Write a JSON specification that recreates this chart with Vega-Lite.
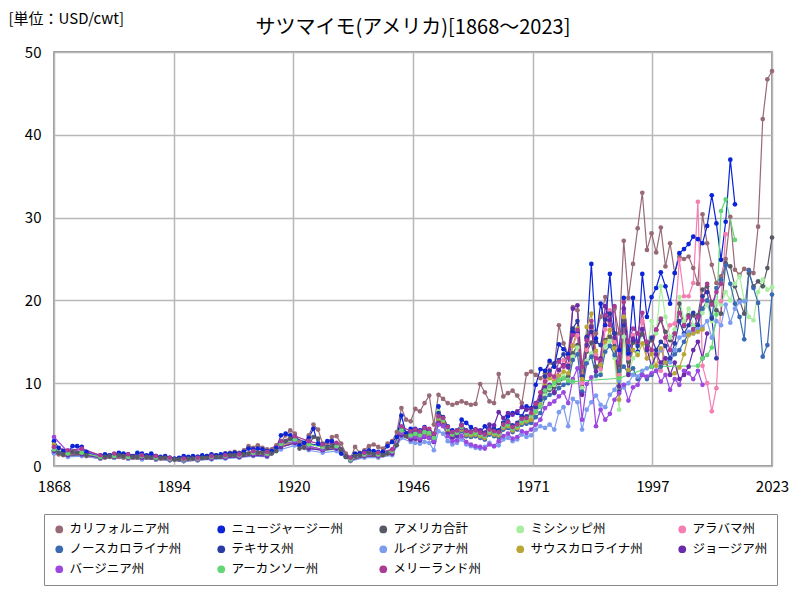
{
 "$schema": "https://vega.github.io/schema/vega-lite/v6.json",
 "width": 718, "height": 414,
 "autosize": {"type": "none"},
 "padding": {"left": 54, "top": 52, "right": 28, "bottom": 134},
 "background": "white",
 "config": {
  "font": "Noto Sans CJK JP",
  "view": {"stroke": "#7a7a7a", "strokeWidth": 1.5},
  "axis": {"labelFont": "Noto Sans CJK JP", "labelFontSize": 15, "labelColor": "#000", "domain": false, "ticks": false, "gridColor": "#b8b8b8", "gridWidth": 1.5}
 },
 "title": {"text": "サツマイモ(アメリカ)[1868～2023]", "fontSize": 20, "fontWeight": "normal", "color": "#000", "anchor": "middle", "offset": -27, "font": "Noto Sans CJK JP"},
 "data": {"values": [
  {"yr":1868,"CA":1.8,"NJ":3.0,"US":2.2,"NC":1.6,"TX":1.9,"LA":1.5,"SC":2.6,"GA":1.8,"VA":3.5,"MD":2.3,"MS":1.7,"AL":1.6,"AR":2.0},
  {"yr":1869,"CA":1.4,"NJ":2.2,"US":1.6},
  {"yr":1870,"CA":1.3,"NJ":1.8,"US":1.4},
  {"yr":1871,"CA":1.5,"NJ":1.6,"US":1.5,"NC":1.2,"TX":1.6,"LA":1.1,"SC":1.4,"GA":1.3,"VA":1.7,"MD":1.9,"MS":1.3,"AL":1.4,"AR":1.5},
  {"yr":1872,"CA":1.6,"NJ":2.4,"US":1.7},
  {"yr":1873,"CA":1.5,"NJ":2.4,"US":1.6},
  {"yr":1874,"CA":1.4,"NJ":2.3,"US":1.6,"NC":1.3,"TX":1.7,"LA":1.2,"SC":1.5,"GA":1.4,"VA":2.0,"MD":2.1,"MS":1.4,"AL":1.3,"AR":1.6},
  {"yr":1875,"CA":1.2,"NJ":1.7,"US":1.3},
  {"yr":1878,"CA":1.0,"NJ":1.3,"US":1.1,"NC":0.9,"TX":1.2,"LA":0.9,"SC":1.0,"GA":1.0,"VA":1.2,"MD":1.3,"MS":1.0,"AL":0.9,"AR":1.1},
  {"yr":1879,"CA":1.0,"NJ":1.4,"US":1.1},
  {"yr":1880,"CA":1.1,"NJ":1.3,"US":1.2},
  {"yr":1881,"CA":1.2,"NJ":1.4,"US":1.3,"NC":1.0,"TX":1.4,"LA":1.0,"SC":1.1,"GA":1.1,"VA":1.3,"MD":1.5,"MS":1.1,"AL":1.0,"AR":1.2},
  {"yr":1882,"CA":1.1,"NJ":1.6,"US":1.3},
  {"yr":1883,"CA":1.0,"NJ":1.5,"US":1.2},
  {"yr":1884,"CA":1.1,"NJ":1.4,"US":1.2,"NC":0.9,"TX":1.3,"LA":0.9,"SC":1.0,"GA":1.0,"VA":1.2,"MD":1.4,"MS":1.0,"AL":0.9,"AR":1.1},
  {"yr":1885,"CA":1.0,"NJ":1.2,"US":1.1},
  {"yr":1886,"CA":1.0,"NJ":1.6,"US":1.1},
  {"yr":1887,"CA":1.1,"NJ":1.5,"US":1.2,"NC":0.9,"TX":1.3,"LA":0.8,"SC":1.0,"GA":1.0,"VA":1.2,"MD":1.3,"MS":1.0,"AL":0.9,"AR":1.2},
  {"yr":1888,"CA":1.0,"NJ":1.3,"US":1.1},
  {"yr":1889,"CA":1.0,"NJ":1.5,"US":1.0},
  {"yr":1890,"CA":1.0,"NJ":1.2,"US":1.1,"NC":0.8,"TX":1.2,"LA":0.8,"SC":0.9,"GA":0.9,"VA":1.1,"MD":1.2,"MS":0.9,"AL":0.8,"AR":1.0},
  {"yr":1891,"CA":0.9,"NJ":1.1,"US":1.0},
  {"yr":1892,"CA":1.0,"NJ":1.2,"US":1.0},
  {"yr":1893,"CA":0.8,"NJ":1.0,"US":0.9,"NC":0.7,"TX":1.0,"LA":0.7,"SC":0.8,"GA":0.8,"VA":0.9,"MD":1.0,"MS":0.8,"AL":0.7,"AR":0.9},
  {"yr":1894,"CA":0.8,"NJ":0.9,"US":0.8},
  {"yr":1895,"CA":0.9,"NJ":1.0,"US":0.8},
  {"yr":1896,"CA":0.9,"NJ":1.2,"US":0.8,"NC":0.6,"TX":0.9,"LA":0.6,"SC":0.7,"GA":0.7,"VA":0.8,"MD":0.9,"MS":0.7,"AL":0.6,"AR":0.8},
  {"yr":1897,"CA":1.0,"NJ":1.1,"US":0.9},
  {"yr":1898,"CA":1.0,"NJ":1.2,"US":0.9},
  {"yr":1899,"CA":1.1,"NJ":1.1,"US":0.9,"NC":0.7,"TX":1.0,"LA":0.7,"SC":0.8,"GA":0.8,"VA":0.9,"MD":1.0,"MS":0.8,"AL":0.7,"AR":0.9},
  {"yr":1900,"CA":1.1,"NJ":1.3,"US":1.0},
  {"yr":1901,"CA":1.2,"NJ":1.2,"US":1.0},
  {"yr":1902,"CA":1.3,"NJ":1.4,"US":1.1,"NC":0.9,"TX":1.2,"LA":0.8,"SC":1.0,"GA":0.9,"VA":1.0,"MD":1.2,"MS":0.9,"AL":0.9,"AR":1.1},
  {"yr":1903,"CA":1.3,"NJ":1.3,"US":1.1},
  {"yr":1904,"CA":1.3,"NJ":1.4,"US":1.1},
  {"yr":1905,"CA":1.5,"NJ":1.5,"US":1.2,"NC":1.0,"TX":1.3,"LA":0.9,"SC":1.1,"GA":1.0,"VA":1.1,"MD":1.3,"MS":1.0,"AL":1.0,"AR":1.2},
  {"yr":1906,"CA":1.6,"NJ":1.5,"US":1.3},
  {"yr":1907,"CA":1.7,"NJ":1.6,"US":1.3},
  {"yr":1908,"CA":1.6,"NJ":1.5,"US":1.3,"NC":1.1,"TX":1.4,"LA":1.0,"SC":1.2,"GA":1.1,"VA":1.2,"MD":1.4,"MS":1.1,"AL":1.1,"AR":1.3},
  {"yr":1909,"CA":1.9,"NJ":1.7,"US":1.4},
  {"yr":1910,"CA":2.4,"NJ":2.1,"US":1.5},
  {"yr":1911,"CA":2.2,"NJ":2.0,"US":1.6,"NC":1.3,"TX":1.7,"LA":1.2,"SC":1.4,"GA":1.3,"VA":1.5,"MD":1.8,"MS":1.4,"AL":1.3,"AR":1.6},
  {"yr":1912,"CA":2.5,"NJ":2.1,"US":1.6},
  {"yr":1913,"CA":2.2,"NJ":2.0,"US":1.6},
  {"yr":1914,"CA":2.0,"NJ":1.8,"US":1.5,"NC":1.3,"TX":1.6,"LA":1.1,"SC":1.3,"GA":1.2,"VA":1.4,"MD":1.7,"MS":1.3,"AL":1.2,"AR":1.5},
  {"yr":1915,"CA":2.0,"NJ":1.8,"US":1.5},
  {"yr":1916,"CA":2.5,"NJ":2.2,"US":1.8},
  {"yr":1917,"CA":2.9,"NJ":3.7,"US":2.6,"NC":2.3,"TX":2.8,"LA":2.0,"SC":2.4,"GA":2.3,"VA":2.6,"MD":3.0,"MS":2.4,"AL":2.3,"AR":2.7},
  {"yr":1918,"CA":3.7,"NJ":3.9,"US":3.0},
  {"yr":1919,"CA":4.3,"NJ":3.7,"US":3.3},
  {"yr":1920,"CA":3.9,"NJ":3.3,"US":3.1,"NC":2.8,"TX":3.4,"LA":2.5,"SC":2.9,"GA":2.8,"VA":3.0,"MD":3.6,"MS":2.9,"AL":2.7,"AR":3.2},
  {"yr":1921,"CA":2.9,"NJ":2.5,"US":2.1},
  {"yr":1922,"CA":2.7,"NJ":2.8,"US":2.2},
  {"yr":1923,"CA":3.7,"NJ":3.4,"US":2.5,"NC":2.2,"TX":2.7,"LA":1.9,"SC":2.3,"GA":2.1,"VA":2.4,"MD":3.0,"MS":2.2,"AL":2.1,"AR":2.6},
  {"yr":1924,"CA":5.0,"NJ":4.5,"US":3.5},
  {"yr":1925,"CA":4.4,"NJ":2.7,"US":3.3},
  {"yr":1926,"CA":2.7,"NJ":2.6,"US":2.2,"NC":1.9,"TX":2.4,"LA":1.6,"SC":2.0,"GA":1.9,"VA":2.0,"MD":2.6,"MS":1.8,"AL":1.9,"AR":2.3},
  {"yr":1927,"CA":2.8,"NJ":3.0,"US":2.2},
  {"yr":1928,"CA":3.5,"NJ":3.0,"US":2.4},
  {"yr":1929,"CA":3.6,"NJ":2.4,"US":2.4,"NC":2.1,"TX":2.6,"LA":1.8,"SC":2.2,"GA":2.1,"VA":2.3,"MD":2.8,"MS":2.0,"AL":2.1,"AR":2.4},
  {"yr":1930,"CA":2.7,"NJ":1.5,"US":2.0},
  {"yr":1931,"CA":1.5,"NJ":1.1,"US":1.1},
  {"yr":1932,"CA":0.9,"NJ":1.0,"US":0.8,"NC":0.7,"TX":0.9,"LA":0.6,"SC":0.7,"GA":0.7,"VA":0.8,"MD":1.0,"MS":0.7,"AL":0.7,"AR":0.8},
  {"yr":1933,"CA":2.3,"NJ":1.5,"US":1.2},
  {"yr":1934,"CA":1.6,"NJ":1.5,"US":1.3},
  {"yr":1935,"CA":1.9,"NJ":1.7,"US":1.4,"NC":1.2,"TX":1.5,"LA":1.0,"SC":1.2,"GA":1.2,"VA":1.3,"MD":1.6,"MS":1.2,"AL":1.2,"AR":1.4},
  {"yr":1936,"CA":2.4,"NJ":1.9,"US":1.6},
  {"yr":1937,"CA":2.6,"NJ":1.8,"US":1.4},
  {"yr":1938,"CA":2.3,"NJ":1.7,"US":1.4,"NC":1.2,"TX":1.5,"LA":1.0,"SC":1.2,"GA":1.2,"VA":1.3,"MD":1.6,"MS":1.2,"AL":1.2,"AR":1.4},
  {"yr":1939,"CA":2.1,"NJ":1.7,"US":1.3},
  {"yr":1940,"CA":2.7,"NJ":2.4,"US":1.5},
  {"yr":1941,"CA":3.0,"NJ":2.9,"US":1.8,"NC":1.5,"TX":1.9,"LA":1.3,"SC":1.6,"GA":1.5,"VA":1.7,"MD":2.0,"MS":1.5,"AL":1.5,"AR":1.8},
  {"yr":1942,"CA":4.1,"NJ":3.5,"US":2.5},
  {"yr":1943,"CA":7.0,"NJ":6.1,"US":4.2,"NC":3.8,"TX":4.5,"LA":3.4,"SC":3.9,"GA":3.7,"VA":4.0,"MD":4.8,"MS":3.6,"AL":3.7,"AR":4.3},
  {"yr":1944,"CA":5.6,"NJ":3.9,"US":3.6},
  {"yr":1945,"CA":5.4,"NJ":4.5,"US":3.7,"NC":3.3,"TX":3.9,"LA":2.9,"SC":3.4,"GA":3.2,"VA":3.5,"MD":4.2,"MS":3.3,"AL":3.2,"AR":3.7},
  {"yr":1946,"CA":6.9,"NJ":4.5,"US":3.8,"NC":3.4,"TX":4.2,"LA":2.8,"SC":3.6,"GA":3.3,"VA":3.5,"MD":4.4,"MS":3.5,"AL":3.3,"AR":3.9},
  {"yr":1947,"CA":6.6,"NJ":4.3,"US":3.6,"NC":3.2,"TX":4.0,"LA":2.7,"SC":3.4,"GA":3.1,"VA":3.3,"MD":4.2,"MS":3.3,"AL":3.1,"AR":3.7},
  {"yr":1948,"CA":7.6,"NJ":4.7,"US":4.0,"NC":3.6,"TX":4.4,"LA":2.9,"SC":3.8,"GA":3.5,"VA":3.6,"MD":4.6,"MS":3.7,"AL":3.5,"AR":4.1},
  {"yr":1949,"CA":8.5,"NJ":4.0,"US":3.9,"NC":3.5,"TX":4.3,"LA":2.8,"SC":3.7,"GA":3.4,"VA":3.4,"MD":4.5,"MS":3.6,"AL":3.4,"AR":4.0},
  {"yr":1950,"CA":5.0,"NJ":3.2,"US":3.4,"NC":3.0,"TX":3.6,"LA":1.9,"SC":3.1,"GA":2.9,"VA":3.0,"MD":3.9,"MS":3.1,"AL":2.9,"AR":3.4},
  {"yr":1951,"CA":8.6,"NJ":7.2,"US":5.6,"NC":5.3,"TX":6.4,"LA":4.2,"SC":5.5,"GA":5.2,"VA":5.0,"MD":6.0,"MS":6.6,"AL":5.3,"AR":5.9},
  {"yr":1952,"CA":8.1,"NJ":5.2,"US":5.4,"NC":5.0,"TX":5.9,"LA":3.9,"SC":5.2,"GA":4.9,"VA":4.8,"MD":5.8,"MS":5.8,"AL":5.0,"AR":5.6},
  {"yr":1953,"CA":7.6,"NJ":4.5,"US":4.4,"NC":4.0,"TX":4.8,"LA":3.0,"SC":4.2,"GA":3.9,"VA":3.6,"MD":4.7,"MS":4.6,"AL":4.0,"AR":4.5},
  {"yr":1954,"CA":7.4,"NJ":4.3,"US":3.8,"NC":3.4,"TX":4.0,"LA":2.6,"SC":3.6,"GA":3.4,"VA":3.0,"MD":4.1,"MS":3.9,"AL":3.4,"AR":3.8},
  {"yr":1955,"CA":7.6,"NJ":3.8,"US":4.0,"NC":3.6,"TX":4.3,"LA":2.8,"SC":3.8,"GA":3.7,"VA":3.1,"MD":4.3,"MS":4.1,"AL":3.6,"AR":4.0},
  {"yr":1956,"CA":7.8,"NJ":5.6,"US":4.6,"NC":4.2,"TX":5.0,"LA":3.2,"SC":4.4,"GA":4.6,"VA":3.6,"MD":4.9,"MS":4.8,"AL":4.2,"AR":4.7},
  {"yr":1957,"CA":7.6,"NJ":5.2,"US":4.0,"NC":3.6,"TX":4.3,"LA":2.6,"SC":3.8,"GA":4.0,"VA":2.9,"MD":4.2,"MS":4.1,"AL":3.6,"AR":4.0},
  {"yr":1958,"CA":7.4,"NJ":4.7,"US":3.9,"NC":3.5,"TX":4.2,"LA":2.4,"SC":3.7,"GA":4.1,"VA":2.6,"MD":4.1,"MS":4.0,"AL":3.5,"AR":3.9},
  {"yr":1959,"CA":7.5,"NJ":4.3,"US":4.0,"NC":3.6,"TX":4.4,"LA":2.2,"SC":3.8,"GA":4.4,"VA":2.4,"MD":4.3,"MS":4.1,"AL":3.6,"AR":4.0},
  {"yr":1960,"CA":9.9,"NJ":4.0,"US":3.8,"NC":3.4,"TX":4.2,"LA":2.1,"SC":3.6,"GA":4.3,"VA":2.3,"MD":4.0,"MS":3.9,"AL":3.4,"AR":3.8},
  {"yr":1961,"CA":8.9,"NJ":4.8,"US":3.6,"NC":3.2,"TX":4.0,"LA":2.3,"SC":3.4,"GA":4.0,"VA":2.1,"MD":3.8,"MS":3.7,"AL":3.2,"AR":3.6},
  {"yr":1962,"CA":7.8,"NJ":4.0,"US":4.2,"NC":3.8,"TX":4.6,"LA":2.8,"SC":4.0,"GA":5.0,"VA":2.6,"MD":4.4,"MS":4.3,"AL":3.9,"AR":4.2},
  {"yr":1963,"CA":7.6,"NJ":4.5,"US":4.0,"NC":3.6,"TX":4.3,"LA":2.4,"SC":3.8,"GA":4.9,"VA":2.4,"MD":4.2,"MS":4.1,"AL":3.7,"AR":4.0},
  {"yr":1964,"CA":11.1,"NJ":4.3,"US":3.9,"NC":3.5,"TX":4.2,"LA":2.5,"SC":3.7,"GA":6.5,"VA":3.0,"MD":4.1,"MS":4.0,"AL":3.5,"AR":3.9},
  {"yr":1965,"CA":8.4,"NJ":5.2,"US":4.8,"NC":4.4,"TX":5.2,"LA":3.2,"SC":4.6,"GA":5.8,"VA":3.6,"MD":5.0,"MS":4.9,"AL":4.6,"AR":4.8},
  {"yr":1966,"CA":8.8,"NJ":6.0,"US":5.0,"NC":4.6,"TX":5.4,"LA":3.4,"SC":4.8,"GA":6.4,"VA":3.9,"MD":5.3,"MS":5.1,"AL":4.8,"AR":5.0},
  {"yr":1967,"CA":9.1,"NJ":6.4,"US":4.5,"NC":4.1,"TX":4.9,"LA":3.0,"SC":4.3,"GA":6.2,"VA":3.3,"MD":4.7,"MS":4.6,"AL":4.2,"AR":4.5},
  {"yr":1968,"CA":8.5,"NJ":6.4,"US":4.8,"NC":4.4,"TX":5.2,"LA":3.2,"SC":4.6,"GA":6.6,"VA":3.5,"MD":5.0,"MS":4.9,"AL":4.6,"AR":4.8},
  {"yr":1969,"CA":7.6,"NJ":6.0,"US":5.4,"NC":5.0,"TX":5.9,"LA":3.8,"SC":5.2,"GA":7.1,"VA":4.2,"MD":5.7,"MS":5.5,"AL":5.2,"AR":5.4},
  {"yr":1970,"CA":11.1,"NJ":7.2,"US":5.5,"NC":5.1,"TX":6.0,"LA":3.5,"SC":5.4,"GA":6.8,"VA":4.0,"MD":5.8,"MS":5.7,"AL":5.3,"AR":5.6},
  {"yr":1971,"CA":11.4,"NJ":7.0,"US":6.0,"NC":5.2,"TX":6.3,"LA":3.7,"SC":5.6,"GA":6.9,"VA":4.4,"MD":6.4,"MS":5.9,"AL":5.5,"AR":6.2},
  {"yr":1972,"CA":11.0,"NJ":9.8,"US":6.6,"NC":5.9,"TX":7.1,"LA":4.4,"SC":6.5,"GA":7.6,"VA":5.0,"MD":7.5,"MS":6.8,"AL":6.9,"AR":6.6},
  {"yr":1973,"CA":10.6,"NJ":11.7,"US":7.2,"NC":6.4,"TX":8.0,"LA":4.8,"SC":7.4,"GA":8.4,"VA":5.6,"MD":8.9,"MS":7.3,"AL":8.2,"AR":7.2},
  {"yr":1974,"CA":11.2,"NJ":11.5,"US":9.0,"NC":8.2,"TX":10.8,"LA":4.6,"SC":9.9,"GA":9.5,"VA":7.0,"MD":10.2,"MS":8.5,"AL":10.5,"AR":9.1},
  {"yr":1975,"CA":12.5,"NJ":12.7,"US":9.2,"NC":8.6,"TX":11.5,"LA":5.0,"SC":10.6,"GA":9.8,"VA":7.5,"MD":11.0,"MS":9.4,"AL":11.6,"AR":9.6},
  {"yr":1976,"CA":12.0,"NJ":12.0,"US":9.5,"NC":8.8,"TX":12.4,"LA":4.4,"SC":10.2,"GA":8.9,"VA":7.8,"MD":10.8,"MS":9.8,"AL":10.6,"AR":10.0},
  {"yr":1977,"CA":17.0,"NJ":14.7,"US":10.0,"NC":9.4,"TX":12.8,"LA":6.5,"SC":10.9,"GA":11.6,"VA":8.4,"MD":12.6,"MS":10.3,"AL":11.5,"AR":10.4},
  {"yr":1978,"CA":14.8,"NJ":14.1,"US":10.6,"NC":9.8,"TX":13.5,"LA":7.1,"SC":11.4,"GA":12.2,"VA":8.9,"MD":12.0,"MS":10.9,"AL":12.8,"AR":10.6},
  {"yr":1979,"CA":13.5,"NJ":13.5,"US":10.8,"NC":10.0,"TX":12.1,"LA":4.8,"SC":11.2,"GA":11.9,"VA":7.6,"MD":13.1,"MS":10.4,"AL":12.3,"AR":10.3},
  {"yr":1980,"CA":19.2,"NJ":16.2,"US":13.6,"NC":12.8,"TX":16.6,"LA":8.1,"SC":14.5,"GA":19.0,"VA":10.5,"MD":15.8,"MS":13.2,"AL":14.6,"AR":10.2},
  {"yr":1981,"CA":18.8,"NJ":16.0,"US":14.6,"NC":13.5,"TX":17.5,"LA":7.7,"SC":16.6,"GA":19.4,"VA":11.8,"MD":16.4,"MS":14.3,"AL":15.8},
  {"yr":1982,"CA":12.0,"NJ":8.9,"US":9.5,"NC":9.0,"TX":10.8,"LA":4.4,"SC":10.5,"GA":8.6,"VA":5.6,"MD":12.0,"MS":9.4,"AL":10.0},
  {"yr":1983,"CA":15.5,"NJ":15.4,"US":13.8,"NC":12.4,"TX":15.6,"LA":6.8,"SC":16.8,"GA":14.6,"VA":9.9,"MD":15.2,"MS":12.7,"AL":14.0},
  {"yr":1984,"CA":17.0,"NJ":24.4,"US":14.9,"NC":13.2,"TX":16.2,"LA":7.7,"SC":18.4,"GA":16.8,"VA":10.7,"MD":17.5,"MS":13.6,"AL":16.3},
  {"yr":1985,"CA":16.0,"NJ":15.4,"US":12.0,"NC":10.9,"TX":15.0,"LA":8.5,"SC":13.9,"GA":11.4,"VA":4.8,"MD":13.0,"MS":10.8,"AL":13.5},
  {"yr":1986,"CA":18.0,"NJ":19.6,"US":11.9,"NC":11.0,"TX":14.6,"LA":7.4,"SC":12.2,"GA":13.0,"VA":6.8,"MD":12.8,"MS":11.2,"AL":11.7},
  {"yr":1987,"CA":20.4,"NJ":17.0,"US":15.2,"NC":13.8,"TX":17.7,"LA":7.1,"SC":15.0,"GA":19.3,"VA":5.6,"MD":18.2,"MS":14.4,"AL":16.5},
  {"yr":1988,"CA":17.5,"NJ":23.2,"US":15.6,"NC":14.5,"TX":18.4,"LA":8.6,"SC":16.4,"GA":17.6,"VA":6.3,"MD":17.0,"MS":15.1,"AL":18.8},
  {"yr":1989,"CA":19.0,"NJ":16.0,"US":14.5,"NC":13.4,"TX":16.0,"LA":9.2,"SC":14.2,"GA":15.5,"VA":8.0,"MD":19.3,"MS":13.0,"AL":15.0},
  {"yr":1990,"CA":16.0,"NJ":14.0,"US":12.2,"NC":11.5,"TX":9.0,"LA":10.3,"SC":8.0,"GA":9.6,"VA":8.8,"MD":12.5,"MS":6.8,"AL":11.0,"AR":10.6},
  {"yr":1991,"CA":27.2,"NJ":20.3,"US":17.6,"NC":12.0,"TX":17.0,"LA":9.5,"SC":18.0,"GA":19.0,"VA":9.8,"MD":19.8,"MS":15.6,"AL":18.0},
  {"yr":1992,"CA":20.3,"NJ":13.6,"US":12.6,"NC":11.2,"TX":14.0,"LA":10.0,"SC":11.6,"GA":11.0,"VA":7.9,"MD":15.0,"MS":11.0,"AL":13.0},
  {"yr":1993,"CA":24.4,"NJ":20.3,"US":14.9,"NC":11.8,"TX":15.2,"LA":11.0,"SC":14.0,"GA":15.4,"VA":9.5,"MD":16.6,"MS":13.0,"AL":15.8},
  {"yr":1994,"CA":28.7,"NJ":13.8,"US":14.8,"NC":10.5,"TX":14.5,"LA":10.8,"SC":13.4,"GA":15.0,"VA":9.8,"MD":16.0,"MS":13.6,"AL":14.8},
  {"yr":1995,"CA":33.0,"NJ":23.2,"US":15.9,"NC":11.0,"TX":16.5,"LA":11.5,"SC":14.8,"GA":16.5,"VA":11.0,"MD":18.5,"MS":16.5,"AL":17.5},
  {"yr":1996,"CA":26.1,"NJ":18.0,"US":14.6,"NC":10.5,"TX":14.0,"LA":11.8,"SC":13.0,"GA":14.2,"VA":10.8,"MD":15.0,"MS":14.0,"AL":13.0},
  {"yr":1997,"CA":28.1,"NJ":20.4,"US":15.2,"NC":11.0,"TX":15.5,"LA":12.0,"SC":13.5,"GA":12.0,"VA":11.2,"MD":14.0,"MS":17.5,"AL":14.0,"AR":12.0},
  {"yr":1998,"CA":25.8,"NJ":21.5,"US":16.4,"NC":11.5,"TX":14.0,"LA":13.5,"SC":12.1,"GA":13.5,"VA":11.5,"MD":16.5,"MS":16.0,"AL":13.5},
  {"yr":1999,"CA":28.8,"NJ":23.4,"US":17.6,"NC":12.0,"TX":15.0,"LA":14.0,"SC":14.2,"GA":12.5,"VA":10.2,"MD":17.8,"MS":21.7,"AL":11.5},
  {"yr":2000,"CA":24.1,"NJ":21.7,"US":16.2,"NC":12.5,"TX":14.5,"LA":13.0,"SC":12.5,"GA":13.0,"VA":11.0,"MD":15.5,"MS":18.0,"AL":15.5},
  {"yr":2001,"CA":26.9,"NJ":19.6,"US":15.2,"NC":12.8,"TX":13.0,"LA":12.5,"SC":11.0,"GA":11.0,"VA":9.2,"MD":14.0,"MS":15.5,"AL":17.0},
  {"yr":2002,"CA":23.3,"NJ":23.3,"US":16.0,"NC":13.5,"TX":14.8,"LA":14.0,"SC":11.2,"GA":12.5,"VA":10.5,"MD":16.0,"MS":16.5,"AL":17.2},
  {"yr":2003,"CA":25.3,"NJ":25.7,"US":19.6,"NC":14.0,"TX":17.5,"LA":15.5,"SC":11.9,"GA":10.5,"VA":9.8,"MD":18.5,"MS":20.4,"AL":24.9},
  {"yr":2004,"CA":25.0,"NJ":26.2,"US":16.9,"NC":15.0,"TX":16.0,"LA":15.8,"SC":13.5,"GA":11.0,"VA":11.5,"MD":17.0,"MS":17.5,"AL":20.5},
  {"yr":2005,"CA":25.3,"NJ":26.8,"US":18.2,"NC":16.0,"TX":17.0,"LA":16.2,"SC":15.8,"GA":12.0,"VA":11.2,"MD":18.0,"MS":19.0,"AL":20.5},
  {"yr":2006,"CA":23.9,"NJ":27.7,"US":18.2,"NC":16.5,"TX":18.5,"LA":16.0,"SC":16.0,"GA":14.0,"VA":10.5,"MD":16.5,"MS":17.0,"AL":22.1},
  {"yr":2007,"CA":22.0,"NJ":27.4,"US":18.2,"NC":17.0,"TX":17.0,"LA":16.5,"SC":16.2,"GA":15.0,"VA":11.5,"MD":18.0,"MS":16.5,"AL":31.9,"AR":12.1},
  {"yr":2008,"CA":30.4,"NJ":26.9,"US":21.3,"NC":19.0,"TX":20.5,"LA":16.8,"SC":16.5,"GA":13.0,"VA":9.8,"MD":20.0,"MS":18.5,"AL":12.1,"AR":13.0},
  {"yr":2009,"CA":26.9,"NJ":29.0,"US":21.7,"NC":20.0,"TX":21.0,"LA":17.5,"GA":16.0,"MD":22.0,"MS":19.5,"AL":10.0,"AR":13.4},
  {"yr":2010,"CA":24.3,"NJ":32.7,"US":19.8,"NC":18.0,"TX":17.8,"LA":15.5,"MD":19.5,"MS":17.5,"AL":6.6,"AR":14.3},
  {"yr":2011,"CA":22.1,"NJ":29.3,"US":18.8,"NC":21.5,"TX":13.0,"LA":17.5,"MD":21.0,"MS":19.8,"AL":9.4,"AR":18.3},
  {"yr":2012,"CA":22.9,"NJ":24.9,"US":18.4,"NC":22.5,"LA":17.0,"MD":22.0,"MS":19.5,"AL":19.9,"AR":30.8},
  {"yr":2013,"CA":25.0,"NJ":29.5,"US":24.5,"NC":24.2,"LA":19.5,"MS":21.0,"AL":28.0,"AR":32.2},
  {"yr":2014,"CA":30.1,"NJ":37.0,"US":24.1,"NC":22.0,"LA":17.3,"MS":20.0},
  {"yr":2015,"CA":23.7,"NJ":31.6,"US":21.7,"NC":19.6,"LA":19.0,"MS":22.0,"AR":27.3},
  {"yr":2016,"CA":23.1,"US":20.0,"NC":18.0,"LA":19.8,"MS":22.9},
  {"yr":2017,"CA":23.8,"US":18.4,"NC":15.3,"LA":19.9,"MS":20.0},
  {"yr":2018,"CA":23.7,"US":23.3,"NC":23.6,"MS":18.0},
  {"yr":2019,"CA":23.3,"US":21.7,"NC":21.5,"MS":17.6},
  {"yr":2020,"CA":28.9,"US":22.3,"NC":19.7,"MS":21.0},
  {"yr":2021,"CA":41.9,"US":21.7,"NC":13.2,"MS":22.5},
  {"yr":2022,"CA":46.7,"US":23.9,"NC":14.6,"MS":21.3},
  {"yr":2023,"CA":47.7,"US":27.6,"NC":20.7,"MS":21.6}
 ]},
 "transform": [
  {"fold": ["CA","NJ","US","MS","AL","NC","TX","LA","SC","GA","VA","AR","MD"], "as": ["s","v"]},
  {"filter": "isValid(datum.v)"}
 ],
 "encoding": {
  "x": {"field": "yr", "type": "quantitative", "scale": {"domain": [1868, 2023], "nice": false, "zero": false},
        "axis": {"values": [1868, 1893.8333, 1919.6667, 1945.5, 1971.3333, 1997.1667, 2023], "format": "d", "title": null, "labelPadding": 13, "labelFlush": false}},
  "y": {"field": "v", "type": "quantitative", "scale": {"domain": [0, 50], "nice": false},
        "axis": {"values": [0, 10, 20, 30, 40, 50], "title": "[単位：USD/cwt]", "titleAngle": 0, "titleAlign": "left", "titleBaseline": "middle", "titleX": -46, "titleY": -34, "titleFontSize": 15, "titleFontWeight": "normal", "titleColor": "#000", "titleFont": "Noto Sans CJK JP", "labelPadding": 13}},
  "color": {"field": "s", "type": "nominal",
     "scale": {"domain": ["CA","NJ","US","MS","AL","NC","TX","LA","SC","GA","VA","AR","MD"],
               "range": ["#976a76","#0a24d6","#565a66","#a8eea0","#f57fb2","#3a6ab4","#2c3ca6","#7c9cf0","#b8a736","#6a2aac","#9a48e0","#64d676","#ab3c95"]},
     "legend": {"orient": "none", "legendX": -10, "legendY": 462, "direction": "horizontal", "columns": 5, "title": null,
       "symbolType": "circle", "symbolSize": 60, "symbolStrokeWidth": 0, "labelFontSize": 12.5, "labelFont": "Noto Sans CJK JP", "labelColor": "#000",
       "strokeColor": "#888", "fillColor": "white", "padding": 9, "rowPadding": 7, "columnPadding": 32, "labelLimit": 200,
       "labelExpr": "{'CA':'カリフォルニア州','NJ':'ニュージャージー州','US':'アメリカ合計','MS':'ミシシッピ州','AL':'アラバマ州','NC':'ノースカロライナ州','TX':'テキサス州','LA':'ルイジアナ州','SC':'サウスカロライナ州','GA':'ジョージア州','VA':'バージニア州','AR':'アーカンソー州','MD':'メリーランド州'}[datum.label]"}}
 },
 "layer": [
  {"mark": {"type": "line", "strokeWidth": 1.2}},
  {"mark": {"type": "point", "filled": true, "size": 22, "opacity": 1}}
 ]
}
